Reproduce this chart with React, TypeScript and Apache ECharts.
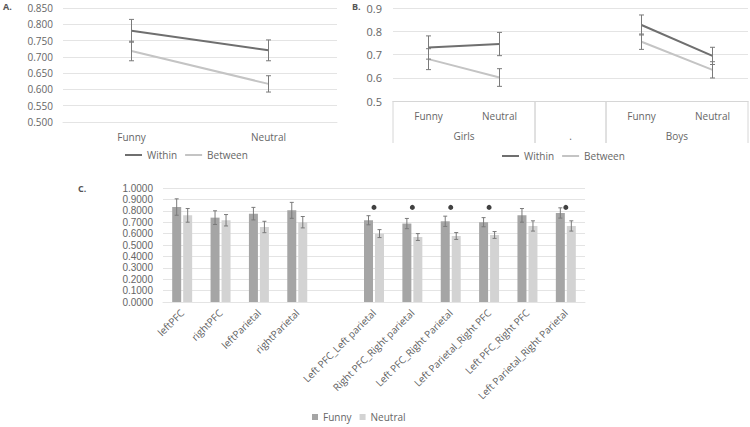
import React, { useEffect, useRef } from "react";
import * as echarts from "echarts";

// ---- Panel A ----
const A_CATS = ["Funny", "Neutral"];
const A_WITHIN = [0.78, 0.72];
const A_WITHIN_ERR = [0.035, 0.032];
const A_BETWEEN = [0.718, 0.617];
const A_BETWEEN_ERR = [0.03, 0.025];

// ---- Panel B ----
const B_CATS = ["Funny", "Neutral", "", "Funny", "Neutral"];
const B_WITHIN = [0.73, 0.745, null, 0.827, 0.694];
const B_WITHIN_ERR = [0.05, 0.05, null, 0.043, 0.037];
const B_BETWEEN = [0.68, 0.601, null, 0.755, 0.634];
const B_BETWEEN_ERR = [0.045, 0.038, null, 0.033, 0.035];
const B_GROUPS = ["Girls", ".", "Boys"];
const B_GROUP_SPANS = [2, 1, 2];

// ---- Panel C ----
const C_CATS = [
  "leftPFC",
  "rightPFC",
  "leftParietal",
  "rightParietal",
  "",
  "Left PFC_Left parietal",
  "Right PFC_Right parietal",
  "Left PFC_Right Parietal",
  "Left Parietal_Right PFC",
  "Left PFC_Right PFC",
  "Left Parietal_Right Parietal",
];
const C_FUNNY = [0.833, 0.74, 0.775, 0.804, null, 0.717, 0.688, 0.708, 0.7, 0.76, 0.781];
const C_FUNNY_ERR = [0.072, 0.06, 0.055, 0.07, null, 0.04, 0.045, 0.045, 0.04, 0.06, 0.045];
const C_NEUTRAL = [0.76, 0.717, 0.658, 0.7, null, 0.6, 0.57, 0.579, 0.588, 0.667, 0.667];
const C_NEUTRAL_ERR = [0.06, 0.05, 0.05, 0.05, null, 0.035, 0.03, 0.03, 0.03, 0.045, 0.045];
const C_SIG = [null, null, null, null, null, 0.83, 0.83, 0.83, 0.83, null, 0.83];

const TXT = "#666666";
const GRIDC = "#e4e4e4";
const ERRC = "#7a7a7a";
const FONT = "Open Sans";

function errData(vals: (number | null)[], errs: (number | null)[]) {
  const out: number[][] = [];
  vals.forEach((v, i) => {
    if (v == null) return;
    const e = errs[i] as number;
    out.push([i, v - e, v + e]);
  });
  return out;
}

function errRender(offset: number, cap: number) {
  return (params: any, api: any) => {
    const x = api.value(0);
    const p1 = api.coord([x, api.value(1)]);
    const p2 = api.coord([x, api.value(2)]);
    const cx = p1[0] + offset;
    const st = { stroke: ERRC, lineWidth: 1 };
    return {
      type: "group",
      children: [
        { type: "line", shape: { x1: cx, y1: p1[1], x2: cx, y2: p2[1] }, style: st },
        { type: "line", shape: { x1: cx - cap, y1: p1[1], x2: cx + cap, y2: p1[1] }, style: st },
        { type: "line", shape: { x1: cx - cap, y1: p2[1], x2: cx + cap, y2: p2[1] }, style: st },
      ],
    };
  };
}

const B_GROUP_DATA = (() => {
  let s = 0;
  return B_GROUP_SPANS.map((n) => {
    const r = [s, s + n - 1, 0.5];
    s += n;
    return r;
  });
})();

export default function App() {
  const ref = useRef<HTMLDivElement>(null);
  useEffect(() => {
    if (!ref.current) return;
    const chart = echarts.init(ref.current, undefined, { renderer: "svg" });
    const axisLabel = { color: TXT, fontSize: 10, fontFamily: FONT };
    const lineLegend = {
      data: ["Within", "Between"],
      icon: "rect",
      itemWidth: 17,
      itemHeight: 2,
      padding: 0,
      textStyle: { color: TXT, fontSize: 10, fontFamily: FONT },
      selectedMode: false,
    };
    const option: any = {
      animation: false,
      textStyle: { fontFamily: FONT, color: TXT },
      graphic: [
        { type: "text", left: 3, top: 2, style: { text: "A.", fontSize: 9, fontWeight: "bold", fill: "#555", fontFamily: FONT } },
        { type: "text", left: 352, top: 2, style: { text: "B.", fontSize: 9, fontWeight: "bold", fill: "#555", fontFamily: FONT } },
        { type: "text", left: 78, top: 184, style: { text: "C.", fontSize: 9, fontWeight: "bold", fill: "#555", fontFamily: FONT } },
      ],
      legend: [
        { ...lineLegend, left: 125, top: 150, itemGap: 8 },
        { ...lineLegend, left: 502, top: 151, itemGap: 8 },
        {
          data: ["Funny", "Neutral"],
          left: 312,
          top: 412,
          padding: 0,
          itemWidth: 6,
          itemHeight: 6,
          itemGap: 8,
          icon: "rect",
          textStyle: { color: TXT, fontSize: 10, fontFamily: FONT },
          selectedMode: false,
        },
      ],
      grid: [
        { left: 63, top: 8, width: 274, height: 114, containLabel: false },
        { left: 393, top: 8, width: 355, height: 93, containLabel: false },
        { left: 163, top: 188, width: 422, height: 114, containLabel: false },
      ],
      xAxis: [
        {
          gridIndex: 0,
          type: "category",
          data: A_CATS,
          axisLine: { lineStyle: { color: GRIDC } },
          axisTick: { show: false },
          axisLabel: { ...axisLabel, margin: 10 },
        },
        {
          gridIndex: 1,
          type: "category",
          data: B_CATS,
          axisLine: { lineStyle: { color: "#d6d6d6" } },
          axisTick: { show: false },
          axisLabel: { ...axisLabel, margin: 10, interval: 0 },
        },
        {
          gridIndex: 2,
          type: "category",
          data: C_CATS,
          axisLine: { lineStyle: { color: GRIDC } },
          axisTick: { show: false },
          axisLabel: { color: "#5e5e5e", fontSize: 10, fontFamily: FONT, rotate: 45, interval: 0, margin: 9 },
        },
      ],
      yAxis: [
        {
          gridIndex: 0,
          type: "value",
          min: 0.5,
          max: 0.85,
          interval: 0.05,
          axisLine: { show: false },
          axisTick: { show: false },
          splitLine: { lineStyle: { color: GRIDC } },
          axisLabel: { ...axisLabel, margin: 10, formatter: (v: number) => v.toFixed(3) },
        },
        {
          gridIndex: 1,
          type: "value",
          min: 0.5,
          max: 0.9,
          interval: 0.1,
          axisLine: { show: false },
          axisTick: { show: false },
          splitLine: { lineStyle: { color: GRIDC } },
          axisLabel: { ...axisLabel, fontSize: 11, margin: 11, formatter: (v: number) => v.toFixed(1) },
        },
        {
          gridIndex: 2,
          type: "value",
          min: 0,
          max: 1,
          interval: 0.1,
          axisLine: { show: false },
          axisTick: { show: false },
          splitLine: { lineStyle: { color: GRIDC } },
          axisLabel: {
            color: TXT,
            fontFamily: "Liberation Sans",
            fontSize: 10,
            lineHeight: 10,
            margin: 10,
            formatter: (v: number) => v.toFixed(4),
          },
        },
      ],
      series: [
        // Panel A
        {
          name: "Within",
          type: "line",
          xAxisIndex: 0,
          yAxisIndex: 0,
          data: A_WITHIN,
          symbol: "none",
          lineStyle: { color: "#6f6f6f", width: 2 },
          itemStyle: { color: "#6f6f6f" },
        },
        {
          name: "Between",
          type: "line",
          xAxisIndex: 0,
          yAxisIndex: 0,
          data: A_BETWEEN,
          symbol: "none",
          lineStyle: { color: "#c4c4c4", width: 2 },
          itemStyle: { color: "#c4c4c4" },
        },
        { type: "custom", xAxisIndex: 0, yAxisIndex: 0, data: errData(A_WITHIN, A_WITHIN_ERR), renderItem: errRender(0, 2.5), z: 5 },
        { type: "custom", xAxisIndex: 0, yAxisIndex: 0, data: errData(A_BETWEEN, A_BETWEEN_ERR), renderItem: errRender(0, 2.5), z: 5 },
        // Panel B
        {
          name: "Within",
          type: "line",
          xAxisIndex: 1,
          yAxisIndex: 1,
          data: B_WITHIN,
          symbol: "none",
          lineStyle: { color: "#6f6f6f", width: 2 },
          itemStyle: { color: "#6f6f6f" },
        },
        {
          name: "Between",
          type: "line",
          xAxisIndex: 1,
          yAxisIndex: 1,
          data: B_BETWEEN,
          symbol: "none",
          lineStyle: { color: "#c4c4c4", width: 2 },
          itemStyle: { color: "#c4c4c4" },
        },
        { type: "custom", xAxisIndex: 1, yAxisIndex: 1, data: errData(B_WITHIN, B_WITHIN_ERR), renderItem: errRender(0, 2.5), z: 5 },
        { type: "custom", xAxisIndex: 1, yAxisIndex: 1, data: errData(B_BETWEEN, B_BETWEEN_ERR), renderItem: errRender(0, 2.5), z: 5 },
        {
          type: "custom",
          xAxisIndex: 1,
          yAxisIndex: 1,
          clip: false,
          silent: true,
          data: B_GROUP_DATA,
          renderItem: (params: any, api: any) => {
            const band = api.size([1, 0])[0];
            const y0 = api.coord([0, api.value(2)])[1];
            const xs = api.coord([api.value(0), api.value(2)])[0] - band / 2;
            const xe = api.coord([api.value(1), api.value(2)])[0] + band / 2;
            const label = B_GROUPS[params.dataIndex];
            const st = { stroke: "#d6d6d6", lineWidth: 1 };
            return {
              type: "group",
              children: [
                { type: "line", shape: { x1: xs, y1: y0, x2: xs, y2: y0 + 42 }, style: st },
                { type: "line", shape: { x1: xe, y1: y0, x2: xe, y2: y0 + 42 }, style: st },
                {
                  type: "text",
                  style: {
                    text: label,
                    x: (xs + xe) / 2,
                    y: y0 + 35,
                    align: "center",
                    verticalAlign: "middle",
                    fill: TXT,
                    fontSize: 10,
                    fontFamily: FONT,
                  },
                },
              ],
            };
          },
        },
        // Panel C
        {
          name: "Funny",
          type: "bar",
          xAxisIndex: 2,
          yAxisIndex: 2,
          data: C_FUNNY,
          barWidth: 9,
          barGap: "22%",
          itemStyle: { color: "#a5a5a5" },
        },
        {
          name: "Neutral",
          type: "bar",
          xAxisIndex: 2,
          yAxisIndex: 2,
          data: C_NEUTRAL,
          barWidth: 9,
          barGap: "22%",
          itemStyle: { color: "#d3d3d3" },
        },
        { type: "custom", xAxisIndex: 2, yAxisIndex: 2, data: errData(C_FUNNY, C_FUNNY_ERR), renderItem: errRender(-5.5, 2), z: 5 },
        { type: "custom", xAxisIndex: 2, yAxisIndex: 2, data: errData(C_NEUTRAL, C_NEUTRAL_ERR), renderItem: errRender(5.5, 2), z: 5 },
        {
          name: "sig",
          type: "scatter",
          xAxisIndex: 2,
          yAxisIndex: 2,
          data: C_SIG,
          symbol: "circle",
          symbolSize: 5,
          itemStyle: { color: "#111" },
        },
      ],
    };
    chart.setOption(option);
    return () => chart.dispose();
  }, []);
  return (
    <div
      ref={ref}
      style={{ position: "absolute", left: 0, top: 0, width: 750, height: 427, background: "#fff" }}
    />
  );
}
